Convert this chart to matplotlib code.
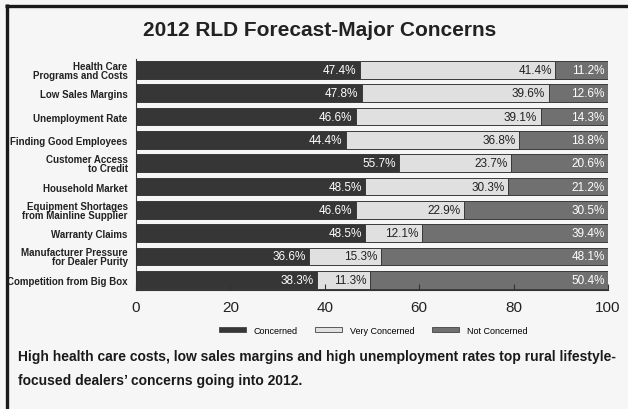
import matplotlib
matplotlib.use("Agg")
import matplotlib.pyplot as plt
from matplotlib.lines import Line2D
from matplotlib.patches import Patch
import numpy as np

categories = ["Health Care\nPrograms and Costs", "Low Sales Margins", "Unemployment Rate",
              "Finding Good Employees", "Customer Access\nto Credit", "Household Market",
              "Equipment Shortages\nfrom Mainline Supplier", "Warranty Claims",
              "Manufacturer Pressure\nfor Dealer Purity", "Competition from Big Box"]
concerned = [47.4, 47.8, 46.6, 44.4, 55.7, 48.5, 46.6, 48.5, 36.6, 38.3]
very_concerned = [41.4, 39.6, 39.1, 36.8, 23.7, 30.3, 22.9, 12.1, 15.3, 11.3]
not_concerned = [11.2, 12.6, 14.3, 18.8, 20.6, 21.2, 30.5, 39.4, 48.1, 50.4]
series_names = ["Concerned", "Very Concerned", "Not Concerned"]
xticks = [0, 20, 40, 60, 80, 100]
title = "2012 RLD Forecast-Major Concerns"
caption = ["High health care costs, low sales margins and high unemployment rates top rural lifestyle-",
           "focused dealers\u2019 concerns going into 2012."]

colors = ["#363636", "#e0e0e0", "#707070"]
text_colors = ["white", "#222222", "white"]
BG = "#f6f6f6"
SANS = ["Liberation Sans", "DejaVu Sans"]

W, H = 628, 410
fig = plt.figure(figsize=(W / 100, H / 100), dpi=100, facecolor=BG)
ax = fig.add_axes([136 / W, 1 - 291 / H, (608 - 136) / W, (291 - 60) / H])
ax.set_facecolor(BG)

y = np.arange(len(categories))
left = np.zeros(len(categories))
for vals, col, tc in zip([concerned, very_concerned, not_concerned], colors, text_colors):
    vals = np.array(vals)
    ax.barh(y, vals, left=left, height=0.76, color=col, edgecolor="#3a3a3a", linewidth=0.7)
    for yi, l, v in zip(y, left, vals):
        ax.text(l + v - 0.7, yi, f"{v:.1f}%", ha="right", va="center", color=tc,
                fontsize=8.5, family=SANS)
    left = left + vals

ax.set_xlim(0, 100)
ax.set_ylim(9.44, -0.47)
ax.set_yticks(y)
ax.set_yticklabels(categories, family=SANS, fontsize=7.0, fontweight="bold",
                   linespacing=0.85, color="#222222")
ax.tick_params(axis="y", length=0, pad=6)
ax.set_xticks(xticks)
ax.set_xticklabels([str(t) for t in xticks], family=SANS, fontsize=11, color="#222222")
ax.tick_params(axis="x", direction="in", length=4, width=0.8, pad=7, color="#333333")
for s in ["top", "right"]:
    ax.spines[s].set_visible(False)
for s in ["left", "bottom"]:
    ax.spines[s].set_color("#333333")
    ax.spines[s].set_linewidth(0.8)

fig.text(320 / W, 1 - 30 / H, title, ha="center", va="center", fontsize=15,
         fontweight="bold", family=SANS, color="#222222")

handles = [Patch(facecolor=c, edgecolor="#444444", linewidth=0.6) for c in colors]
fig.legend(handles, series_names, loc="center", bbox_to_anchor=(373 / W, 1 - 331 / H),
           ncol=3, frameon=False, handlelength=3.0, handleheight=0.55,
           columnspacing=2.0, handletextpad=0.8, prop={"family": SANS, "size": 6.5})

fig.text(18 / W, 1 - 357 / H, caption[0], ha="left", va="center", fontsize=10,
         fontweight="bold", family=SANS, color="#1a1a1a")
fig.text(18 / W, 1 - 381 / H, caption[1], ha="left", va="center", fontsize=10,
         fontweight="bold", family=SANS, color="#1a1a1a")

fig.add_artist(Line2D([6.5 / W, 6.5 / W], [0, 1 - 5 / H], transform=fig.transFigure,
                      color="#1a1a1a", linewidth=2.4, solid_capstyle="butt"))
fig.add_artist(Line2D([5 / W, 1], [1 - 6.5 / H, 1 - 6.5 / H], transform=fig.transFigure,
                      color="#1a1a1a", linewidth=2.4, solid_capstyle="butt"))

fig.savefig("out.png", dpi=100, facecolor=BG)
